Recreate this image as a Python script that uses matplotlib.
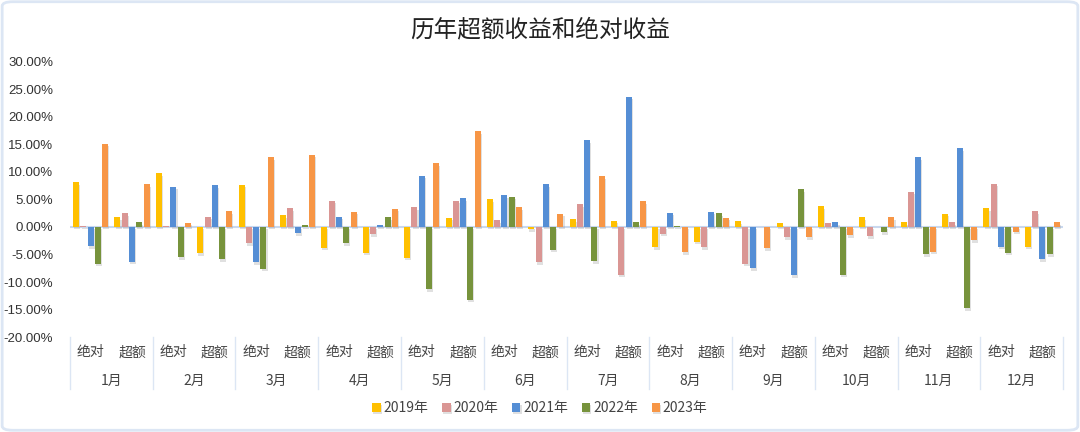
import matplotlib.pyplot as plt
import matplotlib.patheffects as pe
import matplotlib.transforms as mtransforms
from matplotlib.patches import FancyBboxPatch
import numpy as np

plt.rcParams['font.family'] = ['Noto Sans CJK SC', 'DejaVu Sans']

# categories: each month has 绝对 / 超额
months = [f"{m}月" for m in range(1, 13)]
kinds = ["绝对", "超额"]
years = ["2019年", "2020年", "2021年", "2022年", "2023年"]
colors = ["#FFC000", "#DA9694", "#558ED5", "#77933C", "#F79646"]

# returns in %, order: 1月绝对, 1月超额, 2月绝对, 2月超额, ...
y2019 = [8.1, 1.8, 9.8, -4.8, 7.7, 2.1, -3.8, -4.7, -5.6, 1.7, 5.0, -0.4,
         1.4, 1.15, -3.7, -2.7, 1.0, 0.7, 3.75, 1.8, 0.9, 2.4, 3.45, -3.6]
y2020 = [0.2, 2.5, 0.1, 1.9, -3.0, 3.4, 4.8, -1.3, 3.6, 4.8, 1.2, -6.4,
         4.1, -8.7, -1.2, -3.7, -6.7, -1.9, 0.7, -1.7, 6.4, 0.85, 7.9, 2.85]
y2021 = [-3.5, -6.3, 7.3, 7.6, -6.4, -1.1, 1.9, 0.4, 9.3, 5.2, 5.8, 7.8,
         15.8, 23.7, 2.6, 2.8, -7.5, -8.8, 0.9, 0.0, 12.7, 14.3, -3.6, -5.9]
y2022 = [-6.7, 0.9, -5.5, -5.9, -7.6, 0.3, -3.0, 1.8, -11.3, -13.2, 5.5, -4.1,
         -6.2, 0.9, 0.2, 2.5, 0.0, 6.85, -8.7, -1.0, -5.0, -14.8, -4.7, -5.0]
y2023 = [15.1, 7.8, 0.8, 2.85, 12.7, 13.1, 2.8, 3.3, 11.6, 17.4, 3.6, 2.4,
         9.2, 4.7, -4.6, 1.7, -3.9, -1.9, -1.5, 1.8, -4.5, -2.4, -0.9, 0.9]
series = [y2019, y2020, y2021, y2022, y2023]

fig = plt.figure(figsize=(10.8, 4.32), dpi=100)
ax = fig.add_axes([0.0648, 0.2199, 0.9195, 0.6366])

# light outer frame
fig.patches.append(FancyBboxPatch((0.002, 0.004), 0.996, 0.992,
                                  boxstyle="round,pad=0,rounding_size=0.01",
                                  transform=fig.transFigure, fill=False,
                                  edgecolor="#DCE6F4", linewidth=2))

n_cat = len(months) * len(kinds)
x = np.arange(n_cat)
pitch = 0.176
width = 0.145
shadow = [pe.SimplePatchShadow(offset=(0.8, -1.8), shadow_rgbFace="#999999", alpha=0.3), pe.Normal()]

for j, (vals, c, lab) in enumerate(zip(series, colors, years)):
    bars = ax.bar(x + (j - 2) * pitch, vals, width, color=c, label=lab, zorder=3)
    for b in bars:
        b.set_path_effects(shadow)

ax.set_xlim(-0.5, n_cat - 0.5)
ax.set_ylim(-20, 30)
ax.set_yticks(np.arange(-20, 31, 5))
ax.set_yticklabels([f"{v:.2f}%" for v in np.arange(-20, 31, 5)],
                   family=['Liberation Sans', 'DejaVu Sans'], fontsize=9.5, color="#333333")
ax.tick_params(axis='y', length=0, pad=12)
ax.tick_params(axis='x', length=0, labelbottom=False)
for s in ax.spines.values():
    s.set_visible(False)
ax.axhline(0, color="#C9D8EE", linewidth=1.5, zorder=2)

# two-level category axis
trans = mtransforms.blended_transform_factory(ax.transData, ax.transAxes)
for i in range(n_cat):
    ax.text(x[i], -0.055, kinds[i % 2], transform=trans, ha='center', va='center',
            fontsize=10, color="#444444")
for m, name in enumerate(months):
    ax.text(2 * m + 0.5, -0.16, name, transform=trans, ha='center', va='center',
            fontsize=10, color="#444444")
for k in range(len(months) + 1):
    ax.plot([2 * k - 0.5, 2 * k - 0.5], [0, -0.19], transform=trans, color="#DCE6F4",
            linewidth=1.0, clip_on=False)

fig.text(0.5, 0.93, "历年超额收益和绝对收益", ha='center', va='center', fontsize=17, color="#222222")

leg = fig.legend(loc='center', bbox_to_anchor=(0.5, 0.055), ncol=5, frameon=False,
                 fontsize=10, handlelength=0.6, handleheight=0.6, handletextpad=0.2,
                 columnspacing=1.0)
for t in leg.get_texts():
    t.set_color("#444444")

fig.savefig("out.png", dpi=100, facecolor="white")
